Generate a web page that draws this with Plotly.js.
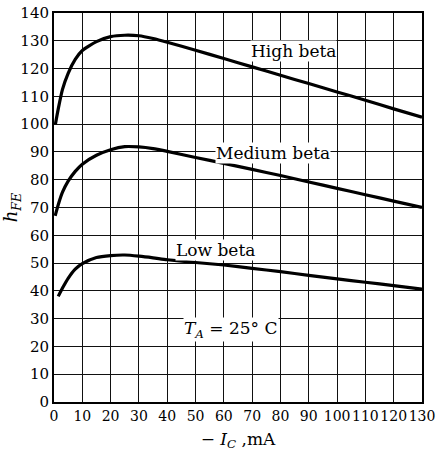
<!DOCTYPE html>
<html>
<head>
<meta charset="utf-8">
<script src="https://cdn.plot.ly/plotly-3.0.1.min.js"></script>
<style>html,body{margin:0;padding:0;background:#fff;}#chart{width:438px;height:452px;}</style>
</head>
<body>
<div id="chart"></div>
<script>
// Collector current, mA
var xHigh = [0.5, 1.5, 3, 5, 7.5, 10, 15, 20, 25, 30, 35, 40, 50, 60, 70, 80, 90, 100, 110, 120, 130];
var hfeHigh = [100, 105.5, 112.5, 118.3, 123.3, 126.5, 129.7, 131.5, 132, 131.8, 130.8, 129.5, 126.6, 123.6, 120.6, 117.6, 114.6, 111.6, 108.6, 105.5, 102.5];

var xMedium = [0.4, 1.5, 3, 5, 7.5, 10, 15, 20, 25, 30, 35, 40, 50, 60, 70, 80, 90, 100, 110, 120, 130];
var hfeMedium = [67, 71, 75.5, 79.5, 83, 85.6, 88.8, 90.8, 91.9, 91.8, 91.2, 90.2, 88, 85.9, 83.7, 81.5, 79.2, 76.9, 74.6, 72.3, 70];

var xLow = [1.5, 3, 5, 7.5, 10, 15, 20, 25, 30, 35, 40, 50, 60, 70, 80, 90, 100, 110, 120, 130];
var hfeLow = [38, 41, 44.5, 47.8, 49.8, 52, 52.7, 52.9, 52.5, 51.9, 51.2, 50.2, 49.3, 48.1, 46.9, 45.6, 44.3, 43.1, 41.9, 40.6];

var xTicks = [0, 10, 20, 30, 40, 50, 60, 70, 80, 90, 100, 110, 120, 130];
var yTicks = [0, 10, 20, 30, 40, 50, 60, 70, 80, 90, 100, 110, 120, 130, 140];

var curveLabels = ["High beta", "Medium beta", "Low beta", "<i>T</i><sub><i>A</i></sub> = 25\u00b0 C"];
var labelX = [84.5, 77.5, 57, 62.5];
var labelY = [126.3, 89.7, 54.6, 26];

var serif = "DejaVu Serif, serif";
var lineStyle = {color: "#000", width: 3.2, shape: "spline", smoothing: 0.6};

var traces = [
  {x: xHigh, y: hfeHigh, name: "High beta", mode: "lines", line: lineStyle, hoverinfo: "x+y"},
  {x: xMedium, y: hfeMedium, name: "Medium beta", mode: "lines", line: lineStyle, hoverinfo: "x+y"},
  {x: xLow, y: hfeLow, name: "Low beta", mode: "lines", line: lineStyle, hoverinfo: "x+y"}
];

var annotations = curveLabels.map(function (t, i) {
  return {
    x: labelX[i], y: labelY[i], xref: "x", yref: "y", text: t, showarrow: false,
    font: {family: serif, size: 17, color: "#000"},
    bgcolor: "#fff", borderpad: 0
  };
});

var layout = {
  width: 438, height: 452,
  margin: {l: 54, r: 16, t: 13, b: 50},
  paper_bgcolor: "#fff", plot_bgcolor: "#fff",
  showlegend: false,
  font: {family: serif, color: "#000"},
  xaxis: {
    range: [0, 130], tickvals: xTicks, ticktext: xTicks.map(String), tickangle: 0,
    showgrid: true, gridcolor: "#111", gridwidth: 1,
    showline: true, linecolor: "#000", linewidth: 2, mirror: true,
    zeroline: false, ticks: "",
    tickfont: {family: serif, size: 14, color: "#000"},
    title: {text: "\u2212 <i>I</i><sub><i>C</i></sub> ,mA", font: {family: serif, size: 17, color: "#000"}, standoff: 10}
  },
  yaxis: {
    range: [0, 140], tickvals: yTicks, ticktext: yTicks.map(String),
    showgrid: true, gridcolor: "#111", gridwidth: 1,
    showline: true, linecolor: "#000", linewidth: 2, mirror: true,
    zeroline: false, ticks: "",
    tickfont: {family: serif, size: 15, color: "#000"},
    title: {text: "<i>h</i><sub><i>FE</i></sub>", font: {family: serif, size: 18, color: "#000"}, standoff: 5}
  },
  annotations: annotations
};

Plotly.newPlot("chart", traces, layout, {displayModeBar: false, staticPlot: true});
</script>
</body>
</html>
